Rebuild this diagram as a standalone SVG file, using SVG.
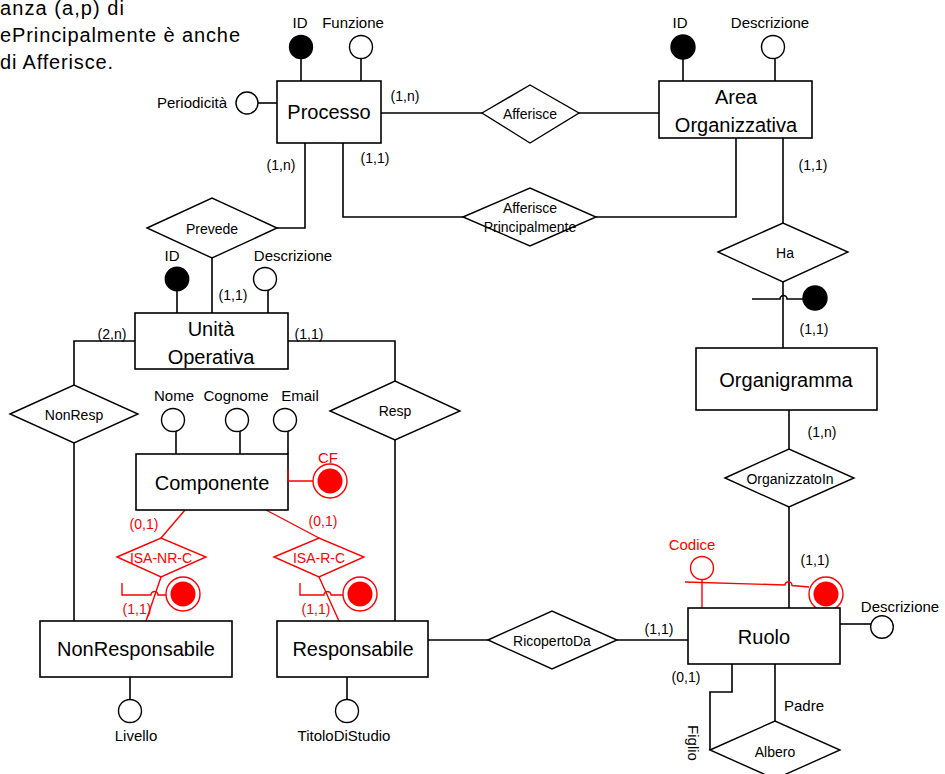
<svg xmlns="http://www.w3.org/2000/svg" width="945" height="774" viewBox="0 0 945 774">
<style>
text{font-family:"Liberation Sans",Arial,sans-serif;fill:#000;text-anchor:middle;dominant-baseline:central}
.ent{fill:#fff;stroke:#000;stroke-width:1.6}
.rel{fill:#fff;stroke:#000;stroke-width:1.4}
.ln{fill:none;stroke:#000;stroke-width:1.6}
.rl{fill:none;stroke:#f00;stroke-width:1.4}
.att{fill:#fff;stroke:#000;stroke-width:1.4}
.key{fill:#000;stroke:#000;stroke-width:1.4}
.n{font-size:20px}
.d{font-size:14px}
.a{font-size:15px}
.c{font-size:14px}
.red{fill:#f00}
.rdiam{fill:#fff;stroke:#f00;stroke-width:1.4}
.note{font-size:20px;text-anchor:start}
</style>
<defs>
<g id="rkey"><circle r="17" fill="#fff" stroke="#f00" stroke-width="1.4"/><circle r="12.5" fill="#f00"/></g>
</defs>

<text class="note" x="0" y="8" textLength="124">anza (a,p) di</text>
<text class="note" x="0" y="35" textLength="240">ePrincipalmente è anche</text>
<text class="note" x="0" y="62" textLength="113">di Afferisce.</text>

<g id="connectors">
<path class="ln" d="M381,113 H482 M579,113 H659"/>
<path class="ln" d="M343,143 V217 H463 M596,217 H736 V138"/>
<path class="ln" d="M305,143 V228 H277"/>
<path class="ln" d="M212,258 V313"/>
<path class="ln" d="M135,341 H74 V385"/>
<path class="ln" d="M288,341 H395 V381"/>
<path class="ln" d="M74,443 V621"/>
<path class="ln" d="M395,440 V621"/>
<path class="ln" d="M428,640 H488 M617,640 H688"/>
<path class="ln" d="M783,138 V223"/>
<path class="ln" d="M783,282 V348"/>
<path class="ln" d="M789,410 V449"/>
<path class="ln" d="M789,507 V608"/>
<path class="ln" d="M732,664 V692 H710 V750"/>
<path class="ln" d="M775,664 V721"/>
<path class="rl" d="M185,510 L161,538 M161,577 L146,621"/>
<path class="rl" d="M266,510 L319,538 M319,577 L339,621"/>
</g>

<g id="processo">
<line class="ln" x1="301" y1="58" x2="301" y2="81"/>
<line class="ln" x1="361" y1="58" x2="361" y2="81"/>
<circle class="key" cx="301" cy="47" r="11.5"/>
<circle class="att" cx="361" cy="47" r="11.5"/>
<text class="a" x="300" y="22">ID</text>
<text class="a" x="353" y="22">Funzione</text>
<line class="ln" x1="258" y1="103" x2="277" y2="103"/>
<circle class="att" cx="247" cy="103" r="11"/>
<text class="a" x="192" y="102">Periodicità</text>
<rect class="ent" x="277" y="81" width="104" height="62"/>
<text class="n" x="329" y="112">Processo</text>
<text class="c" x="405" y="96">(1,n)</text>
<text class="c" x="281" y="165">(1,n)</text>
<text class="c" x="375" y="158">(1,1)</text>
</g>

<g id="afferisce">
<polygon class="rel" points="482,113 530,85 579,113 530,143"/>
<text class="d" x="530" y="114">Afferisce</text>
</g>

<g id="afferisce-principalmente">
<polygon class="rel" points="463,217 530,188 596,217 530,246"/>
<text class="d" x="530" y="208">Afferisce</text>
<text class="d" x="530" y="227">Principalmente</text>
</g>

<g id="area-organizzativa">
<line class="ln" x1="683" y1="59" x2="683" y2="81"/>
<line class="ln" x1="775" y1="59" x2="775" y2="81"/>
<circle class="key" cx="683" cy="47" r="12"/>
<circle class="att" cx="773" cy="47" r="11.5"/>
<text class="a" x="680" y="22">ID</text>
<text class="a" x="770" y="22">Descrizione</text>
<rect class="ent" x="659" y="81" width="153" height="57"/>
<text class="n" x="736" y="97">Area</text>
<text class="n" x="736" y="125">Organizzativa</text>
<text class="c" x="813" y="165">(1,1)</text>
</g>

<g id="prevede">
<polygon class="rel" points="147,228 212,198 277,228 212,258"/>
<text class="d" x="212" y="229">Prevede</text>
</g>

<g id="unita-operativa">
<line class="ln" x1="177" y1="290" x2="177" y2="313"/>
<line class="ln" x1="268" y1="290" x2="268" y2="313"/>
<circle class="key" cx="177" cy="279" r="11.7"/>
<circle class="att" cx="265" cy="279" r="11.5"/>
<text class="a" x="172" y="255">ID</text>
<text class="a" x="293" y="255">Descrizione</text>
<rect class="ent" x="135" y="313" width="153" height="56"/>
<text class="n" x="211" y="329">Unità</text>
<text class="n" x="211" y="357">Operativa</text>
<text class="c" x="233" y="295">(1,1)</text>
<text class="c" x="112" y="334">(2,n)</text>
<text class="c" x="309" y="334">(1,1)</text>
</g>

<g id="nonresp">
<polygon class="rel" points="10,414 74,385 138,414 74,443"/>
<text class="d" x="74" y="415">NonResp</text>
</g>

<g id="resp">
<polygon class="rel" points="330,411 395,381 460,411 395,440"/>
<text class="d" x="395" y="411">Resp</text>
</g>

<g id="componente">
<line class="ln" x1="176" y1="431" x2="176" y2="454"/>
<line class="ln" x1="240" y1="431" x2="240" y2="454"/>
<line class="ln" x1="288" y1="431" x2="288" y2="454"/>
<circle class="att" cx="173" cy="420" r="11.5"/>
<circle class="att" cx="237" cy="420" r="11.5"/>
<circle class="att" cx="285" cy="420" r="11.5"/>
<text class="a" x="174" y="395">Nome</text>
<text class="a" x="236" y="395">Cognome</text>
<text class="a" x="300" y="395">Email</text>
<rect class="ent" x="136" y="454" width="152" height="56"/>
<text class="n" x="212" y="483">Componente</text>
<path class="rl" d="M288,470 V481 H313"/>
<use href="#rkey" x="330" y="481"/>
<text class="a red" x="328" y="457">CF</text>
</g>

<g id="isa-nr-c">
<polygon class="rdiam" points="117,557 161,538 206,557 161,577"/>
<text class="c red" x="161" y="558">ISA-NR-C</text>
<text class="c red" x="144" y="524">(0,1)</text>
<path class="rl" d="M122,583 V595 H151 A3.5,3.5 0 0 1 158,595 H166"/>
<use href="#rkey" x="183" y="594"/>
<text class="c red" x="137" y="609">(1,1)</text>
</g>

<g id="isa-r-c">
<polygon class="rdiam" points="274,557 319,538 364,557 319,577"/>
<text class="c red" x="319" y="558">ISA-R-C</text>
<text class="c red" x="323" y="521">(0,1)</text>
<path class="rl" d="M300,583 V595 H324 A3.5,3.5 0 0 1 331,595 H343"/>
<use href="#rkey" x="360" y="594"/>
<text class="c red" x="316" y="609">(1,1)</text>
</g>

<g id="nonresponsabile">
<rect class="ent" x="40" y="621" width="192" height="56"/>
<text class="n" x="136" y="649">NonResponsabile</text>
<line class="ln" x1="130" y1="677" x2="130" y2="699"/>
<circle class="att" cx="130" cy="711" r="11.5"/>
<text class="a" x="136" y="735">Livello</text>
</g>

<g id="responsabile">
<rect class="ent" x="277" y="621" width="151" height="56"/>
<text class="n" x="353" y="649">Responsabile</text>
<line class="ln" x1="347" y1="677" x2="347" y2="699"/>
<circle class="att" cx="347" cy="711" r="11.5"/>
<text class="a" x="344" y="735">TitoloDiStudio</text>
</g>

<g id="ricopertoda">
<polygon class="rel" points="488,640 552,611 617,640 552,669"/>
<text class="d" x="552" y="641">RicopertoDa</text>
<text class="c" x="659" y="629">(1,1)</text>
</g>

<g id="ha">
<polygon class="rel" points="718,252 783,223 848,252 783,282"/>
<text class="d" x="785" y="253">Ha</text>
<path class="ln" d="M752,299 H780 A3.5,3.5 0 0 1 787,299 H803"/>
<circle class="key" cx="815" cy="298" r="12"/>
</g>

<g id="organigramma">
<rect class="ent" x="696" y="348" width="181" height="62"/>
<text class="n" x="786" y="380">Organigramma</text>
<text class="c" x="814" y="329">(1,1)</text>
<text class="c" x="822" y="432">(1,n)</text>
</g>

<g id="organizzatoin">
<polygon class="rel" points="725,478 789,449 854,478 789,507"/>
<text class="d" x="790" y="479">OrganizzatoIn</text>
<text class="c" x="815" y="560">(1,1)</text>
</g>

<g id="ruolo">
<line class="rl" x1="702" y1="580" x2="702" y2="608"/>
<circle cx="702" cy="568" r="11.5" fill="#fff" stroke="#f00" stroke-width="1.4"/>
<text class="a red" x="692" y="544">Codice</text>
<path class="rl" d="M685,582 L785,585 A3.5,3.5 0 0 1 792,585.5 L809,587"/>
<use href="#rkey" x="826" y="594"/>
<rect class="ent" x="688" y="608" width="152" height="56"/>
<text class="n" x="764" y="637">Ruolo</text>
<line class="ln" x1="840" y1="624" x2="871" y2="624"/>
<circle class="att" cx="882" cy="627" r="11.3"/>
<text class="a" x="900" y="606">Descrizione</text>
<text class="c" x="686" y="677">(0,1)</text>
</g>

<g id="albero">
<polygon class="rel" points="710,750 775,721 840,750 775,779"/>
<text class="d" x="775" y="752">Albero</text>
<text class="a" x="804" y="705">Padre</text>
<text class="a" transform="translate(693,743) rotate(90)" x="0" y="0">Figlio</text>
</g>
</svg>
